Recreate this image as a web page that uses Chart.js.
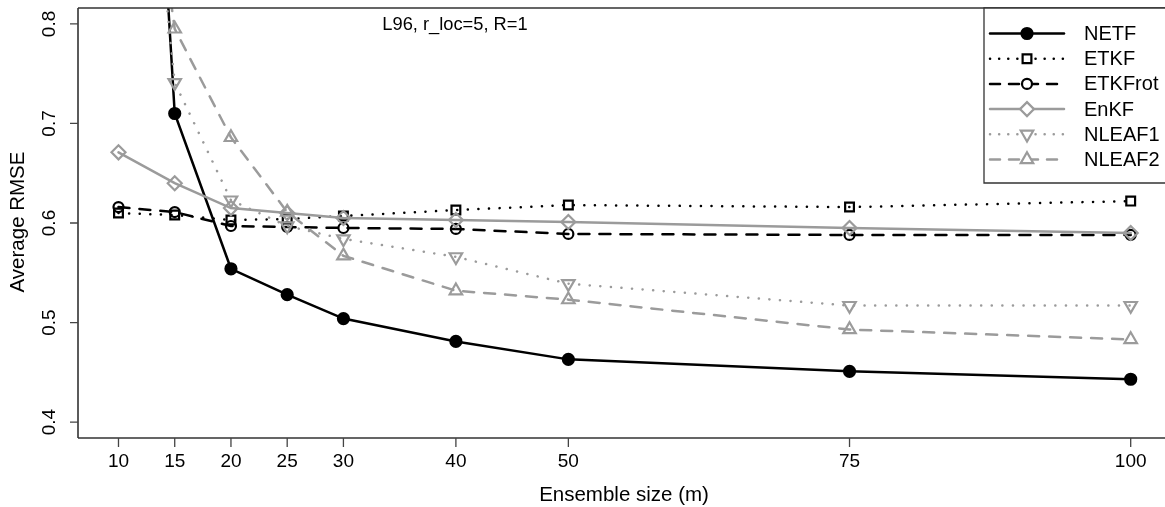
<!DOCTYPE html>
<html>
<head>
<meta charset="utf-8">
<script src="https://cdn.jsdelivr.net/npm/chart.js@4.4.1/dist/chart.umd.min.js"></script>
<style>
html,body{margin:0;padding:0;background:#fff;}
#wrap{position:relative;width:1165px;height:507px;}
</style>
</head>
<body>
<div id="wrap"><canvas id="c" width="1165" height="507"></canvas></div>
<script>
const ensembleSizes = [10, 15, 20, 25, 30, 40, 50, 75, 100];
const xTickLabels = [10, 15, 20, 25, 30, 40, 50, 75, 100];
const yTickLabels = [0.4, 0.5, 0.6, 0.7, 0.8];

const netf    = [1.65, 0.710, 0.554, 0.528, 0.504, 0.481, 0.463, 0.451, 0.443];
const etkf    = [0.610, 0.608, 0.603, 0.604, 0.607, 0.613, 0.618, 0.616, 0.622];
const etkfrot = [0.616, 0.611, 0.597, 0.596, 0.595, 0.594, 0.589, 0.588, 0.588];
const enkf    = [0.671, 0.640, 0.615, 0.610, 0.605, 0.603, 0.601, 0.595, 0.590];
const nleaf1  = [1.30, 0.741, 0.623, 0.597, 0.584, 0.566, 0.539, 0.517, 0.517];
const nleaf2  = [1.20, 0.795, 0.686, 0.611, 0.567, 0.532, 0.523, 0.493, 0.483];

const seriesNames = ['NETF', 'ETKF', 'ETKFrot', 'EnKF', 'NLEAF1', 'NLEAF2'];
const titleText = 'L96, r_loc=5, R=1';
const xTitle = 'Ensemble size (m)';
const yTitle = 'Average RMSE';

const BLACK = '#000000';
const GRAY = '#9b9b9b';
const FONT = '"Liberation Sans", Arial, Helvetica, sans-serif';
const DOT = [0.1, 10.5];
const DASH = [11, 10];
const LEG_DOT = [0.1, 9];
const LEG_DASH = [10, 9];

function pts(vals){ return ensembleSizes.map((x,i)=>({x:x, y:vals[i]})); }

const styles = [
  {data:netf, color:BLACK, dash:[], ldash:[], ps:'circle', r:5.5, fill:BLACK, rot:0},
  {data:etkf, color:BLACK, dash:DOT, ldash:LEG_DOT, ps:'rect', r:6.2, fill:'rgba(0,0,0,0)', rot:0},
  {data:etkfrot, color:BLACK, dash:DASH, ldash:LEG_DASH, ps:'circle', r:5, fill:'rgba(0,0,0,0)', rot:0},
  {data:enkf, color:GRAY, dash:[], ldash:[], ps:'rectRot', r:7, fill:'rgba(0,0,0,0)', rot:0},
  {data:nleaf1, color:GRAY, dash:DOT, ldash:LEG_DOT, ps:'triangle', r:7.2, fill:'rgba(0,0,0,0)', rot:180},
  {data:nleaf2, color:GRAY, dash:DASH, ldash:LEG_DASH, ps:'triangle', r:7.2, fill:'rgba(0,0,0,0)', rot:0},
];

const datasets = styles.map((s,i)=>({
  label: seriesNames[i],
  data: pts(s.data),
  borderColor: s.color,
  backgroundColor: s.fill,
  borderWidth: 2.5,
  borderDash: s.dash,
  borderCapStyle: 'round',
  pointStyle: s.ps,
  pointRadius: s.r,
  pointHoverRadius: s.r,
  pointRotation: s.rot,
  pointBorderColor: s.color,
  pointBackgroundColor: s.fill,
  pointBorderWidth: 2.2,
  tension: 0,
  order: 6 - i
}));

const axesPlugin = {
  id: 'rAxes',
  afterDraw(chart){
    const ctx = chart.ctx;
    const a = chart.chartArea;
    const xs = chart.scales.x, ys = chart.scales.y;
    ctx.save();
    // frame
    ctx.strokeStyle = '#333';
    ctx.lineWidth = 1.6;
    ctx.setLineDash([]);
    ctx.beginPath();
    ctx.moveTo(a.left, a.top); ctx.lineTo(1165, a.top);
    ctx.moveTo(a.left, a.top); ctx.lineTo(a.left, a.bottom);
    ctx.moveTo(a.left, a.bottom); ctx.lineTo(1165, a.bottom);
    ctx.stroke();
    // ticks
    ctx.strokeStyle = '#444';
    ctx.lineWidth = 1.3;
    ctx.beginPath();
    xTickLabels.forEach(v=>{ const px = xs.getPixelForValue(v); ctx.moveTo(px, a.bottom); ctx.lineTo(px, a.bottom+9); });
    yTickLabels.forEach(v=>{ const py = ys.getPixelForValue(v); ctx.moveTo(a.left, py); ctx.lineTo(a.left-8, py); });
    ctx.stroke();
    // labels
    ctx.fillStyle = '#000';
    ctx.font = '19px ' + FONT;
    ctx.textAlign = 'center';
    ctx.textBaseline = 'middle';
    xTickLabels.forEach(v=>{ ctx.fillText(String(v), xs.getPixelForValue(v), 462); });
    yTickLabels.forEach(v=>{
      const py = ys.getPixelForValue(v);
      ctx.save(); ctx.translate(50, py); ctx.rotate(-Math.PI/2);
      ctx.fillText(v.toFixed(1), 0, 0); ctx.restore();
    });
    ctx.font = '20.5px ' + FONT;
    ctx.fillText(xTitle, 624, 495);
    ctx.save(); ctx.translate(18, 222); ctx.rotate(-Math.PI/2);
    ctx.fillText(yTitle, 0, 0); ctx.restore();
    ctx.font = '18.3px ' + FONT;
    ctx.fillText(titleText, 455, 25);

    // legend
    const lx = 984, ly = 8, lbot = 183;
    ctx.fillStyle = '#fff';
    ctx.fillRect(lx, ly, 1165-lx, lbot-ly);
    ctx.strokeStyle = '#333';
    ctx.lineWidth = 1.3;
    ctx.beginPath();
    ctx.moveTo(1166, ly); ctx.lineTo(lx, ly); ctx.lineTo(lx, lbot); ctx.lineTo(1166, lbot);
    ctx.stroke();
    ctx.font = '20px ' + FONT;
    ctx.textAlign = 'left';
    styles.forEach((s,i)=>{
      const y = 33.5 + i*25.2;
      ctx.save();
      ctx.strokeStyle = s.color;
      ctx.lineWidth = 2.5;
      ctx.lineCap = 'round';
      ctx.setLineDash(s.ldash);
      ctx.beginPath(); ctx.moveTo(990, y); ctx.lineTo(1064, y); ctx.stroke();
      ctx.setLineDash([]);
      ctx.strokeStyle = s.color;
      ctx.fillStyle = s.fill === 'rgba(0,0,0,0)' ? '#fff' : s.fill;
      ctx.lineWidth = 2.2;
      Chart.helpers.drawPoint(ctx, {pointStyle:s.ps, rotation:s.rot, radius:s.r, borderWidth:2.2}, 1027, y);
      ctx.restore();
      ctx.fillStyle = '#000';
      ctx.fillText(seriesNames[i], 1084, y+1);
    });
    ctx.restore();
  }
};

new Chart(document.getElementById('c'), {
  type: 'line',
  data: { datasets },
  options: {
    responsive: false,
    animation: false,
    events: [],
    layout: { autoPadding: false, padding: { top: 8, right: 0, left: 0, bottom: 0 } },
    plugins: { legend: { display: false }, tooltip: { enabled: false }, title: { display: false } },
    scales: {
      x: {
        type: 'linear', min: 6.4, max: 103.05,
        grid: { display: false, drawTicks: false },
        border: { display: false },
        ticks: { display: false },
        afterFit(s){ s.height = 69; }
      },
      y: {
        type: 'linear', min: 0.384, max: 0.816,
        grid: { display: false, drawTicks: false },
        border: { display: false },
        ticks: { display: false },
        afterFit(s){ s.width = 78; }
      }
    }
  },
  plugins: [axesPlugin]
});
</script>
</body>
</html>
